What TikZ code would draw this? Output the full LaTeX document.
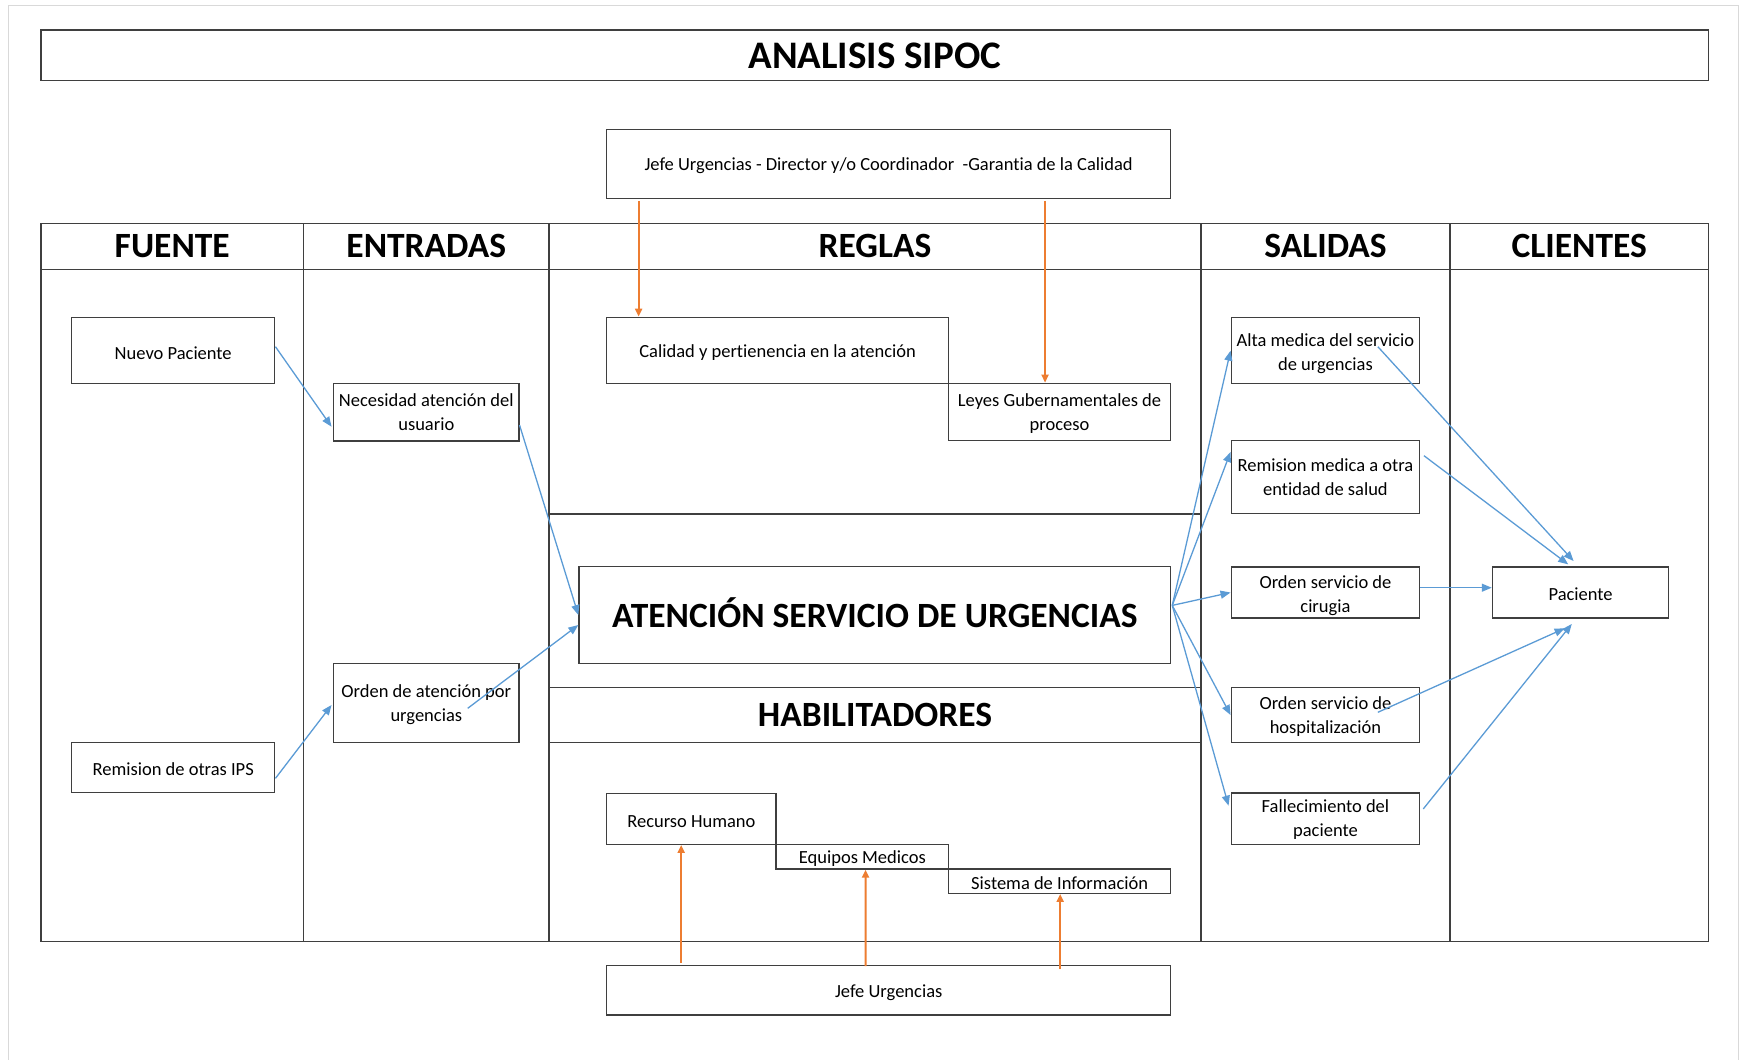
\documentclass[tikz,border=0pt]{standalone}
\usepackage{fontspec}
\setmainfont{Carlito}[Ligatures={NoCommon}]
\usetikzlibrary{arrows.meta,calc}
\definecolor{lineblue}{HTML}{5B9BD5}
\definecolor{lineorange}{HTML}{ED7D31}
\definecolor{pageframe}{HTML}{D9D9D9}
\definecolor{edge}{HTML}{3F3F3F}
% strut that lowers a two-line label slightly inside its box
\newcommand{\topstrut}[1][20pt]{\rule{0pt}{#1}}

\begin{document}
\begin{tikzpicture}[x=1pt,y=-1pt,
  frame/.style={draw=edge,fill=white,line width=1.3pt,inner sep=0pt,align=center},
  box/.style={frame,font=\fontsize{18.5}{24}\selectfont,
    execute at begin node={\rule{0pt}{17pt}}},
  heading/.style={font=\fontsize{35.5}{40}\selectfont\bfseries},
  barr/.style={draw=lineblue,line width=1.3pt,-{Triangle[length=10pt,width=8pt]}},
  oarr/.style={draw=lineorange,line width=2pt,-{Triangle[length=8pt,width=7pt]}},
  rule/.style={draw=edge,line width=1.3pt}]

% canvas
\useasboundingbox (0,0) rectangle (1741,1060);
\draw[pageframe,line width=1.5pt] (8.5,1060) -- (8.5,5.5) -- (1738.5,5.5) -- (1738.5,1060);

% title
\node[frame,minimum width=1667.5pt,minimum height=50.7pt,font=\fontsize{39}{44}\selectfont\bfseries]
  (title) at (874.75,55.35) {ANALISIS SIPOC};

% SIPOC table frame and column rules
\draw[rule] (41,223.3) rectangle (1708.5,941.7);
\draw[rule] (41,269.3) -- (1708.5,269.3);
\draw[rule] (303.5,223.3) -- (303.5,941.7);
\draw[rule] (549,223.3) -- (549,941.7);
\draw[rule] (1201,223.3) -- (1201,941.7);
\draw[rule] (1450,223.3) -- (1450,941.7);
\draw[rule] (549,514) -- (1201,514);
\draw[rule] (549,687.5) -- (1201,687.5);
\draw[rule] (549,742.3) -- (1201,742.3);

% column headings
\node[heading] (hfuente) at (172.25,246.3) {FUENTE};
\node[heading] (hentradas) at (426.25,246.3) {ENTRADAS};
\node[heading] (hreglas) at (875,246.3) {REGLAS};
\node[heading] (hsalidas) at (1325.5,246.3) {SALIDAS};
\node[heading] (hclientes) at (1579.25,246.3) {CLIENTES};
\node[heading] (hhabil) at (875,715) {HABILITADORES};

% rules
\node[box,minimum width=563.7pt,minimum height=69.4pt] (jefeTop) at (888.65,164)
  {Jefe Urgencias - Director y/o Coordinador~ -Garantia de la Calidad};
\node[box,minimum width=341.7pt,minimum height=66pt] (calidad) at (777.65,350.3)
  {Calidad y pertienencia en la atención};
\node[box,minimum width=222pt,minimum height=57.4pt] (leyes) at (1059.5,412)
  {\topstrut[15.6pt]Leyes Gubernamentales de\\proceso};

% sources and inputs
\node[box,minimum width=203.2pt,minimum height=66pt] (nuevo) at (173.2,350.7) {Nuevo Paciente};
\node[box,minimum width=203.2pt,minimum height=50.5pt] (remIPS) at (173.2,767.55) {Remision de otras IPS};
\node[box,minimum width=185.2pt,minimum height=57.3pt] (necesidad) at (426.3,412.35)
  {Necesidad atención del\\usuario};
\node[box,minimum width=185.2pt,minimum height=79pt] (ordenAt) at (426.3,702.8)
  {\topstrut[15.6pt]Orden de atención por\\urgencias};

% process
\node[frame,minimum width=591.6pt,minimum height=96.6pt,font=\fontsize{35.5}{40}\selectfont\bfseries,
  execute at begin node={\rule[-4.6pt]{0pt}{4.6pt}}]
  (atencion) at (874.8,615) {ATENCIÓN SERVICIO DE URGENCIAS};

% enablers
\node[box,minimum width=169.2pt,minimum height=51pt] (recurso) at (691.4,818.8) {Recurso Humano};
\node[box,minimum width=172.7pt,minimum height=24.7pt] (equipos) at (862.35,856.65) {Equipos Medicos};
\node[box,minimum width=221.9pt,minimum height=24.3pt] (sistema) at (1059.65,881.15) {Sistema de Información};
\node[box,minimum width=563.8pt,minimum height=49.3pt] (jefeBot) at (888.7,990.35) {Jefe Urgencias};

% outputs
\node[box,minimum width=188.5pt,minimum height=66pt] (alta) at (1325.45,350.7)
  {\topstrut[17.8pt]Alta medica del servicio\\de urgencias};
\node[box,minimum width=188.5pt,minimum height=73.4pt] (remMed) at (1325.45,477)
  {\topstrut[13.4pt]Remision medica a otra\\entidad de salud};
\node[box,minimum width=188.5pt,minimum height=51pt] (cirugia) at (1325.45,592.5)
  {\topstrut Orden servicio de\\cirugia};
\node[box,minimum width=188.5pt,minimum height=54.6pt] (hosp) at (1325.45,715)
  {\topstrut[15.6pt]Orden servicio de\\hospitalización};
\node[box,minimum width=188.5pt,minimum height=51.3pt] (fallec) at (1325.45,818.65)
  {\topstrut[15.6pt]Fallecimiento del\\paciente};

% client
\node[box,minimum width=176.4pt,minimum height=51pt] (paciente) at (1580.6,592.5) {Paciente};

% flow of the patient
\draw[barr] ($(nuevo.east)+(0,-4)$) -- ($(necesidad.west)+(-1.5,14.4)$);
\draw[barr] ($(necesidad.east)+(0,12.7)$) -- (atencion.west);
\draw[barr] ($(remIPS.east)+(0,10.8)$) -- ($(ordenAt.west)+(-1.5,2.2)$);
\draw[barr] ($(ordenAt.center)+(41.4,5.5)$) -- ($(atencion.west)+(0,10)$);

\draw[barr] ($(atencion.east)+(1,-9.6)$) -- (alta.west);
\draw[barr] ($(atencion.east)+(1,-9.6)$) -- ($(remMed.west)+(0,-25)$);
\draw[barr] ($(atencion.east)+(1,-9.6)$) -- (cirugia.west);
\draw[barr] ($(atencion.east)+(1,-9.6)$) -- (hosp.west);
\draw[barr] ($(atencion.east)+(1,-9.6)$) -- ($(fallec.west)+(-2,-13)$);

\draw[barr] ($(alta.center)+(52.4,-4)$) -- ($(paciente.north)+(-7,-5.3)$);
\draw[barr] ($(remMed.east)+(3.6,-21.3)$) -- ($(paciente.north)+(-12.4,-2)$);
\draw[barr] ($(cirugia.east)+(0,-4.8)$) -- ($(paciente.west)+(0,-4.8)$);
\draw[barr] ($(hosp.center)+(52.4,-2.7)$) -- ($(paciente.south)+(-16,9.7)$);
\draw[barr] ($(fallec.east)+(2.9,-9.7)$) -- ($(paciente.south)+(-8.8,5.3)$);

% governance and enablement
\draw[oarr] ($(jefeTop.south west)+(32.5,1.5)$) -- ($(calidad.north west)+(32.5,0)$);
\draw[oarr] ($(jefeTop.south west)+(438.9,1.5)$) -- ($(leyes.north west)+(97.2,0)$);
\draw[oarr] ($(jefeBot.north west)+(75,-2.4)$) -- ($(recurso.south west)+(75,0)$);
\draw[oarr] ($(jefeBot.north west)+(259.4,1)$) -- ($(equipos.south west)+(90.2,0)$);
\draw[oarr] ($(jefeBot.north west)+(454,4.3)$) -- ($(sistema.south west)+(112.1,0)$);
\end{tikzpicture}
\end{document}
